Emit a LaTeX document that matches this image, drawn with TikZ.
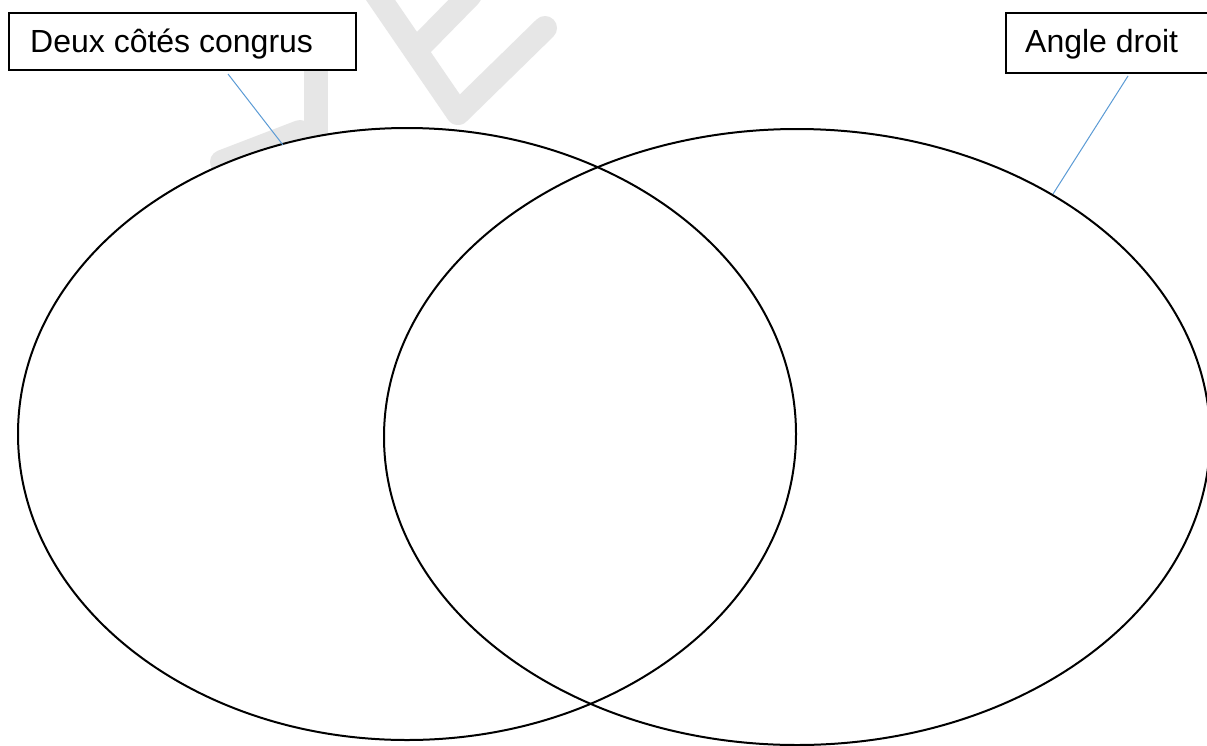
\documentclass[tikz,border=0pt]{standalone}
\usepackage{fontspec}
\setmainfont{Liberation Sans}
\definecolor{callout}{HTML}{5B9BD5}
\definecolor{wmark}{HTML}{E6E6E6}
\begin{document}
\begin{tikzpicture}[x=1pt,y=-1pt,
  wm/.style={draw=wmark,line width=24pt,line cap=round,line join=round},
  setring/.style={draw=black,line width=2pt},
  labelbox/.style={draw=black,fill=white,line width=1.3pt,rectangle,inner sep=0pt},
  labeltext/.style={inner sep=0pt,anchor=base west,font=\fontsize{32}{36}\selectfont},
  leader/.style={draw=callout,line width=1pt}]
\useasboundingbox (0,0) rectangle (1207,745);
\clip (0,0) rectangle (1207,745);
\fill[white] (0,0) rectangle (1207,745);
% watermark
\draw[wm] (316,40) -- (316,220);
\draw[wm] (222,162) -- (300,132);
\draw[wm] (360,-30) -- (458,113) -- (545,28);
\draw[wm] (422,44) -- (470,-5);
% set fills
\fill[white] (407,434) ellipse [x radius=389pt, y radius=306pt];
\fill[white] (797,437) ellipse [x radius=413pt, y radius=308pt];
% set outlines
\draw[setring] (407,434) ellipse [x radius=389pt, y radius=306pt];
\draw[setring] (797,437) ellipse [x radius=413pt, y radius=308pt];
% label boxes
\node[labelbox,minimum width=347pt,minimum height=57pt] (boxL) at (182.5,41.5) {};
\node[labelbox,minimum width=220pt,minimum height=60pt] (boxR) at (1116,43) {};
\node[labeltext] (txtL) at (30,52.5) {Deux côtés congrus};
\node[labeltext] (txtR) at (1025,52.5) {Angle droit};
% leader lines
\coordinate (startL) at (228,74);
\coordinate (endL) at (283,145);
\coordinate (startR) at (1128,76);
\coordinate (endR) at (1053,194);
\draw[leader] (startL) -- (endL);
\draw[leader] (startR) -- (endR);
\end{tikzpicture}
\end{document}
